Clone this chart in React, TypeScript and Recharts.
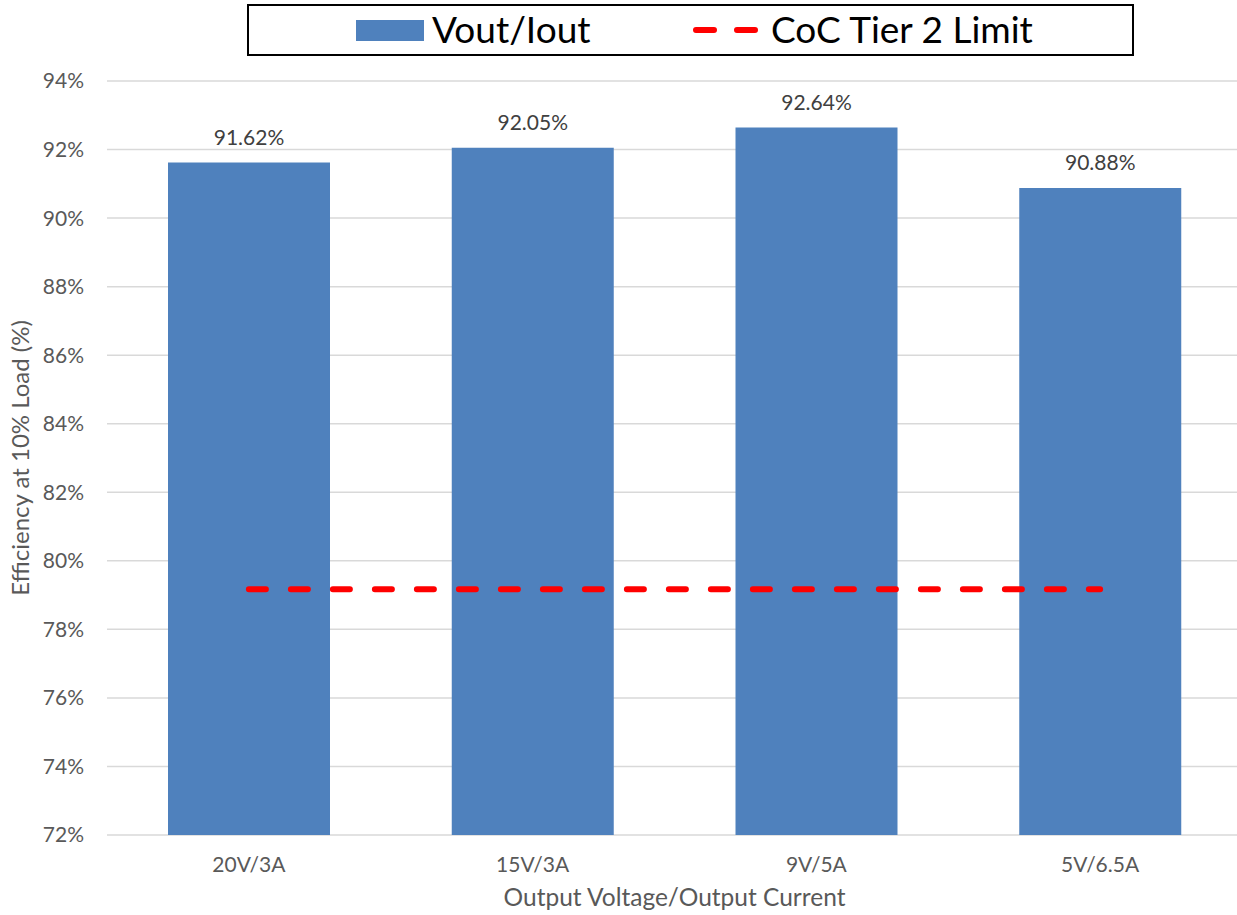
import React from 'react';
import { ComposedChart, Bar, Line, XAxis, YAxis, CartesianGrid, LabelList } from 'recharts';

const categories = ['20V/3A', '15V/3A', '9V/5A', '5V/6.5A'];
const efficiency = [91.62, 92.05, 92.64, 90.88];
const cocLimit = [79.17, 79.17, 79.17, 79.17];
const yTicks = [72, 74, 76, 78, 80, 82, 84, 86, 88, 90, 92, 94];

const data = categories.map((c, i) => ({ name: c, eff: efficiency[i], limit: cocLimit[i] }));

const FONT = 'Lato, "Open Sans", sans-serif';

export default function App() {
  return (
    <div style={{ position: 'relative', width: 1237, height: 915, overflow: 'hidden', background: '#fff' }}>
      <style>{`body{margin:0;overflow:hidden;}`}</style>
      <ComposedChart
        width={1242}
        height={915}
        data={data}
        margin={{ top: 81, right: 0, bottom: 0, left: 0 }}
        style={{ fontFamily: FONT }}
      >
        <CartesianGrid vertical={false} stroke="#d9d9d9" strokeWidth={1.5} />
        <XAxis
          dataKey="name"
          height={80}
          axisLine={false}
          tickLine={false}
          tickSize={0}
          tickMargin={22}
          tick={{ fill: '#595959', fontSize: 21, fontFamily: FONT }}
          label={{
            content: (props: any) => {
              const vb = props.viewBox;
              return (
                <text x={vb.x + vb.width / 2} y={906} textAnchor="middle" fill="#595959" fontSize={24.5} fontFamily={FONT}>
                  Output Voltage/Output Current
                </text>
              );
            },
          }}
        />
        <YAxis
          width={107}
          domain={[72, 94]}
          ticks={yTicks}
          interval={0}
          axisLine={false}
          tickLine={false}
          tickSize={0}
          tickMargin={23}
          tickFormatter={(v: number) => `${v}%`}
          tick={{ fill: '#595959', fontSize: 21, fontFamily: FONT }}
          label={{
            content: (props: any) => {
              const vb = props.viewBox;
              const cx = 29;
              const cy = vb.y + vb.height / 2;
              return (
                <text x={cx} y={cy} transform={`rotate(-90 ${cx} ${cy})`} textAnchor="middle" fill="#595959" fontSize={24} fontFamily={FONT}>
                  Efficiency at 10% Load (%)
                </text>
              );
            },
          }}
        />
        <Bar dataKey="eff" fill="#4f81bd" barSize={162} isAnimationActive={false}>
          <LabelList
            dataKey="eff"
            position="top"
            offset={18}
            formatter={(v: any) => `${Number(v).toFixed(2)}%`}
            style={{ fill: '#404040', fontSize: 21, fontFamily: FONT }}
          />
        </Bar>
        <Line
          dataKey="limit"
          stroke="#ff0000"
          strokeWidth={6}
          strokeDasharray="17 25"
          strokeLinecap="round"
          dot={false}
          activeDot={false}
          isAnimationActive={false}
        />
      </ComposedChart>
      <svg width={1237} height={60} style={{ position: 'absolute', left: 0, top: 0 }}>
        <rect x={248} y={5} width={885} height={50} fill="#fff" stroke="#000" strokeWidth={2} />
        <rect x={356} y={20} width={68} height={21} fill="#4f81bd" />
        <text x={432} y={43} fontSize={37} fontFamily={FONT} fill="#000">Vout/Iout</text>
        <line x1={696} y1={30} x2={755} y2={30} stroke="#ff0000" strokeWidth={6} strokeLinecap="round" strokeDasharray="18 23" />
        <text x={771} y={43} fontSize={37} fontFamily={FONT} fill="#000">CoC Tier 2 Limit</text>
      </svg>
    </div>
  );
}
